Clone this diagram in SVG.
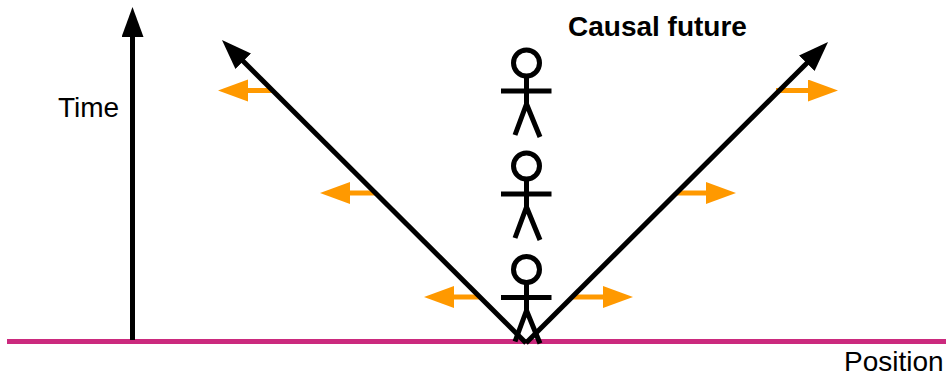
<svg xmlns="http://www.w3.org/2000/svg" width="949" height="378" viewBox="0 0 949 378">
<style>
.bk{fill:none;stroke:#000;stroke-width:5}
.or{fill:none;stroke:#ff9900;stroke-width:5}
.t{font-family:"Liberation Sans",Arial,sans-serif;font-size:28px;fill:#000}
</style>
<defs>
<marker id="ab" markerUnits="userSpaceOnUse" markerWidth="32" markerHeight="24" refX="1" refY="11" orient="auto"><path d="M0 0L30 11L0 22Z" fill="#000"/></marker>
<marker id="ao" markerUnits="userSpaceOnUse" markerWidth="32" markerHeight="24" refX="1" refY="11" orient="auto"><path d="M0 0L30 11L0 22Z" fill="#ff9900"/></marker>
<g id="fig" class="bk"><circle cx="526.500" cy="63" r="13"/><path d="M526.500 76V104M501 91H551.500M526.500 104L515 135M526.500 104L540 137"/></g>
</defs>
<g id="connectors">
<path id="axis" d="M7 341.500H946" fill="none" stroke="#cb2a7e" stroke-width="5"/>
<g id="orange">
<path class="or" marker-end="url(#ao)" d="M272 90.500H247"/>
<path class="or" marker-end="url(#ao)" d="M376 193H349"/>
<path class="or" marker-end="url(#ao)" d="M480 297H453"/>
<path class="or" marker-end="url(#ao)" d="M573 297H604"/>
<path class="or" marker-end="url(#ao)" d="M677 193H707"/>
<path class="or" marker-end="url(#ao)" d="M776 90.500H809"/>
</g>
<path class="bk" marker-end="url(#ab)" d="M132.500 340V36"/>
<path class="bk" marker-end="url(#ab)" d="M526 343L242.500 60.500"/>
<path class="bk" marker-end="url(#ab)" d="M526 343L807.500 62.500"/>
</g>
<g id="person-1"><use href="#fig"/></g>
<g id="person-2"><use href="#fig" y="103"/></g>
<g id="person-3"><use href="#fig" y="206.500"/></g>
<g id="labels">
<text class="t" x="568" y="36" font-weight="700">Causal future</text>
<text class="t" x="58" y="117">Time</text>
<text class="t" x="844" y="371">Position</text>
</g>
</svg>
